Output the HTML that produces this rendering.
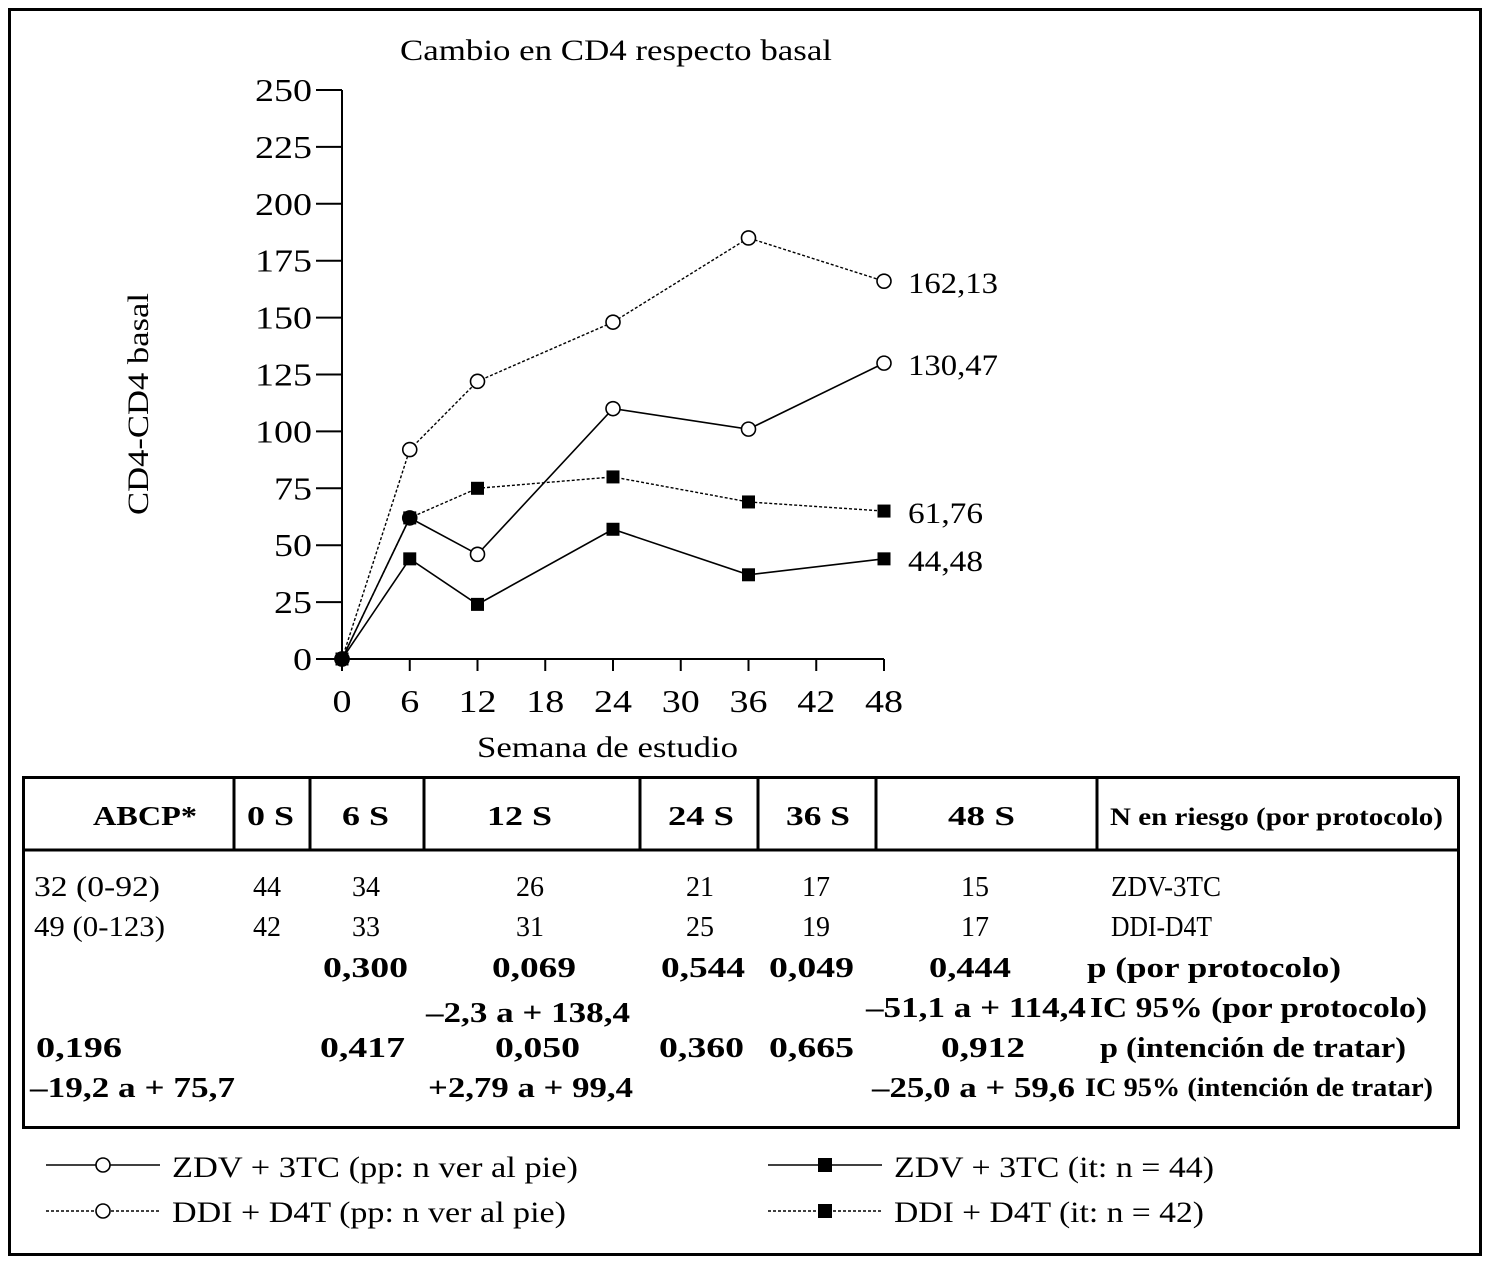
<!DOCTYPE html>
<html><head><meta charset="utf-8"><style>
html,body{margin:0;padding:0;background:#fff}
svg{display:block}
text{font-family:"Liberation Serif",serif;fill:#000}
.b{font-weight:bold}
</style></head><body>
<svg id="s" width="1492" height="1265" viewBox="0 0 1492 1265" xmlns="http://www.w3.org/2000/svg">
<rect x="9.5" y="9.5" width="1471" height="1245" fill="none" stroke="#000" stroke-width="3"/>
<text x="400" y="60" font-size="30" textLength="432" lengthAdjust="spacingAndGlyphs">Cambio en CD4 respecto basal</text>
<text x="0" y="0" font-size="30" textLength="222" lengthAdjust="spacingAndGlyphs" transform="translate(148,515) rotate(-90)">CD4-CD4 basal</text>
<text x="477" y="757" font-size="30" textLength="261" lengthAdjust="spacingAndGlyphs">Semana de estudio</text>
<g id="axes"></g>
<g id="plot"></g>

<g>
<rect x="23.5" y="777.5" width="1435" height="350" fill="none" stroke="#000" stroke-width="3"/>
<line x1="23" y1="850" x2="1458" y2="850" stroke="#000" stroke-width="3"/>
<g stroke="#000" stroke-width="3">
<line x1="234" y1="777" x2="234" y2="850"/><line x1="310" y1="777" x2="310" y2="850"/><line x1="424" y1="777" x2="424" y2="850"/><line x1="640" y1="777" x2="640" y2="850"/><line x1="758" y1="777" x2="758" y2="850"/><line x1="876" y1="777" x2="876" y2="850"/><line x1="1097" y1="777" x2="1097" y2="850"/>
</g>
<g font-size="27" font-weight="bold">
<text x="93" y="825" textLength="104" lengthAdjust="spacingAndGlyphs">ABCP*</text>
<text x="247" y="825" textLength="47" lengthAdjust="spacingAndGlyphs">0 S</text>
<text x="342" y="825" textLength="47" lengthAdjust="spacingAndGlyphs">6 S</text>
<text x="487" y="825" textLength="65" lengthAdjust="spacingAndGlyphs">12 S</text>
<text x="668" y="825" textLength="66" lengthAdjust="spacingAndGlyphs">24 S</text>
<text x="786" y="825" textLength="64" lengthAdjust="spacingAndGlyphs">36 S</text>
<text x="948" y="825" textLength="67" lengthAdjust="spacingAndGlyphs">48 S</text>
<text x="1110" y="825" font-size="25" textLength="333" lengthAdjust="spacingAndGlyphs">N en riesgo (por protocolo)</text>
</g>
<g font-size="28">
<text x="34" y="896" textLength="126" lengthAdjust="spacingAndGlyphs">32 (0-92)</text>
<text x="267" y="896" text-anchor="middle">44</text><text x="366" y="896" text-anchor="middle">34</text><text x="530" y="896" text-anchor="middle">26</text><text x="700" y="896" text-anchor="middle">21</text><text x="816" y="896" text-anchor="middle">17</text><text x="975" y="896" text-anchor="middle">15</text>
<text x="1111" y="896" textLength="110" lengthAdjust="spacingAndGlyphs">ZDV-3TC</text>
<text x="34" y="936" textLength="131" lengthAdjust="spacingAndGlyphs">49 (0-123)</text>
<text x="267" y="936" text-anchor="middle">42</text><text x="366" y="936" text-anchor="middle">33</text><text x="530" y="936" text-anchor="middle">31</text><text x="700" y="936" text-anchor="middle">25</text><text x="816" y="936" text-anchor="middle">19</text><text x="975" y="936" text-anchor="middle">17</text>
<text x="1111" y="936" textLength="101" lengthAdjust="spacingAndGlyphs">DDI-D4T</text>
<g font-weight="bold" font-size="29">
<text x="323" y="977" textLength="85" lengthAdjust="spacingAndGlyphs">0,300</text><text x="492" y="977" textLength="84" lengthAdjust="spacingAndGlyphs">0,069</text><text x="661" y="977" textLength="84" lengthAdjust="spacingAndGlyphs">0,544</text><text x="769" y="977" textLength="85" lengthAdjust="spacingAndGlyphs">0,049</text><text x="929" y="977" textLength="82" lengthAdjust="spacingAndGlyphs">0,444</text>
<text x="1087" y="977" textLength="254" lengthAdjust="spacingAndGlyphs">p (por protocolo)</text>
<text x="426" y="1022" textLength="204" lengthAdjust="spacingAndGlyphs">–2,3 a + 138,4</text><text x="866" y="1017" textLength="220" lengthAdjust="spacingAndGlyphs">–51,1 a + 114,4</text>
<text x="1090" y="1017" textLength="337" lengthAdjust="spacingAndGlyphs">IC 95% (por protocolo)</text>
<text x="36" y="1057" textLength="86" lengthAdjust="spacingAndGlyphs">0,196</text><text x="320" y="1057" textLength="85" lengthAdjust="spacingAndGlyphs">0,417</text><text x="495" y="1057" textLength="85" lengthAdjust="spacingAndGlyphs">0,050</text><text x="659" y="1057" textLength="85" lengthAdjust="spacingAndGlyphs">0,360</text><text x="769" y="1057" textLength="85" lengthAdjust="spacingAndGlyphs">0,665</text><text x="941" y="1057" textLength="84" lengthAdjust="spacingAndGlyphs">0,912</text>
<text x="1100" y="1057" textLength="306" lengthAdjust="spacingAndGlyphs">p (intención de tratar)</text>
<text x="30" y="1097" textLength="205" lengthAdjust="spacingAndGlyphs">–19,2 a + 75,7</text><text x="428" y="1097" textLength="205" lengthAdjust="spacingAndGlyphs">+2,79 a + 99,4</text><text x="872" y="1097" textLength="203" lengthAdjust="spacingAndGlyphs">–25,0 a + 59,6</text>
<text x="1085" y="1096" font-size="26" textLength="348" lengthAdjust="spacingAndGlyphs">IC 95% (intención de tratar)</text>
</g>
</g>
</g>

<g font-size="30">
<g><line x1="46" y1="1165" x2="160" y2="1165" stroke="#000" stroke-width="1.6"/><circle cx="103" cy="1165" r="7" fill="#fff" stroke="#000" stroke-width="1.6"/><text x="172" y="1177" textLength="406" lengthAdjust="spacingAndGlyphs">ZDV + 3TC (pp: n ver al pie)</text></g>
<g><line x1="46" y1="1211" x2="160" y2="1211" stroke="#000" stroke-width="1.4" stroke-dasharray="3,2"/><circle cx="103" cy="1211" r="7" fill="#fff" stroke="#000" stroke-width="1.6"/><text x="172" y="1222" textLength="394" lengthAdjust="spacingAndGlyphs">DDI + D4T (pp: n ver al pie)</text></g>
<g><line x1="768" y1="1165" x2="882" y2="1165" stroke="#000" stroke-width="1.6"/><rect x="818" y="1158" width="14" height="14" fill="#000"/><text x="894" y="1177" textLength="320" lengthAdjust="spacingAndGlyphs">ZDV + 3TC (it: n = 44)</text></g>
<g><line x1="768" y1="1211" x2="882" y2="1211" stroke="#000" stroke-width="1.4" stroke-dasharray="3,2"/><rect x="818" y="1204" width="14" height="14" fill="#000"/><text x="894" y="1222" textLength="310" lengthAdjust="spacingAndGlyphs">DDI + D4T (it: n = 42)</text></g>
</g>
</svg>
<script>
const weeks = [0, 6, 12, 24, 36, 48];
const zdvPP = [0, 62, 46, 110, 101, 130];
const ddiPP = [0, 92, 122, 148, 185, 166];
const zdvIT = [0, 44, 24, 57, 37, 44];
const ddiIT = [0, 62, 75, 80, 69, 65];
const endLabels = ["162,13", "130,47", "61,76", "44,48"];
const yTicks = [0, 25, 50, 75, 100, 125, 150, 175, 200, 225, 250];
const xTicks = [0, 6, 12, 18, 24, 30, 36, 42, 48];

const NS = "http://www.w3.org/2000/svg";
const X = w => 342 + w * (542 / 48);
const Y = v => 659 - v * (569 / 250);
function mk(tag, attrs, parent) {
  const e = document.createElementNS(NS, tag);
  for (const k in attrs) e.setAttribute(k, attrs[k]);
  parent.appendChild(e);
  return e;
}
const axes = document.getElementById('axes');
const plot = document.getElementById('plot');
let yl = mk('line', {x1: 342, y1: Y(250), x2: 342, y2: Y(0), stroke: '#000', 'stroke-width': 2}, axes);


let xl = mk('line', {x1: 342, y1: Y(0), x2: X(48), y2: Y(0), stroke: '#000', 'stroke-width': 2}, axes);


yTicks.forEach(v => {
  const t = mk('line', {x1: 316, y1: Y(v), x2: 342, y2: Y(v), stroke: '#000', 'stroke-width': 2}, axes);
  
  
  const s = String(v);
  const w = s.length * 19;
  const l = mk('text', {x: 312 - w, y: Y(v) + 11, 'font-size': 32, textLength: w, lengthAdjust: 'spacingAndGlyphs'}, axes);
  l.textContent = s;
  
  
});
xTicks.forEach(w => {
  const t = mk('line', {x1: X(w), y1: Y(0), x2: X(w), y2: Y(0) + 12, stroke: '#000', 'stroke-width': 2}, axes);
  
  
  const s = String(w);
  const tw = s.length * 19;
  const l = mk('text', {x: X(w) - tw / 2, y: 712, 'font-size': 32, textLength: tw, lengthAdjust: 'spacingAndGlyphs'}, axes);
  l.textContent = s;
  
  
});
const series = [
  {vals: ddiPP, dash: true, marker: 'circle', name: 'ddi-pp', label: endLabels[0]},
  {vals: zdvPP, dash: false, marker: 'circle', name: 'zdv-pp', label: endLabels[1]},
  {vals: ddiIT, dash: true, marker: 'square', name: 'ddi-it', label: endLabels[2]},
  {vals: zdvIT, dash: false, marker: 'square', name: 'zdv-it', label: endLabels[3]}
];
series.forEach(s => {
  const g = mk('g', {}, plot);
  
  
  const pts = weeks.map((w, i) => X(w) + ',' + Y(s.vals[i])).join(' ');
  const pl = mk('polyline', {points: pts, fill: 'none', stroke: '#000', 'stroke-width': s.dash ? 1.4 : 1.6, 'stroke-dasharray': s.dash ? '3,2' : 'none'}, g);
  
  
  weeks.forEach((w, i) => {
    let m;
    if (s.marker === 'circle') m = mk('circle', {cx: X(w), cy: Y(s.vals[i]), r: 7, fill: '#fff', stroke: '#000', 'stroke-width': 1.6}, g);
    else m = mk('rect', {x: X(w) - 6.5, y: Y(s.vals[i]) - 6.5, width: 13, height: 13, fill: '#000'}, g);
    
    
  });
  const last = s.vals[s.vals.length - 1];
  const t = mk('text', {x: X(48) + 24, y: Y(last) + 12, 'font-size': 30, textLength: s.label.length * 15, lengthAdjust: 'spacingAndGlyphs'}, g);
  t.textContent = s.label;
  
  
});
</script>
</body></html>
